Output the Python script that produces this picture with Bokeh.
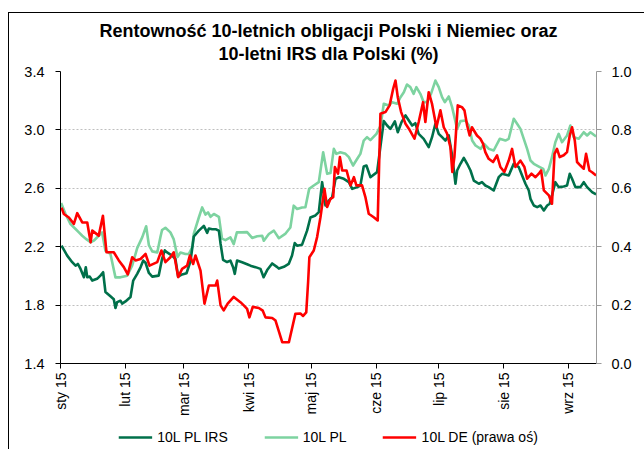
import math
from bokeh.plotting import figure
from bokeh.layouts import column
from bokeh.models import (Range1d, LinearAxis, FixedTicker, Legend, LegendItem,
                          Title, NumeralTickFormatter, ColumnDataSource)
from bokeh.embed import file_html
from bokeh.resources import INLINE

month_days = [0, 31, 59, 90, 120, 151, 181, 212, 243]
month_labels = ["sty 15", "lut 15", "mar 15", "kwi 15", "maj 15",
                "cze 15", "lip 15", "sie 15", "wrz 15"]
left_ticks = [1.4, 1.8, 2.2, 2.6, 3.0, 3.4]
right_ticks = [0.0, 0.2, 0.4, 0.6, 0.8, 1.0]

irs_pts = [(0.5,2.207),(3.2,2.139),(5.6,2.094),(7.2,2.070),(8.3,2.082),(9.6,2.048),(11.2,1.991),
 (12.1,2.059),(12.8,1.991),(14.0,1.995),(15.2,1.968),(17.5,1.980),(19.1,2.002),(20.4,2.025),
 (21.5,1.890),(23.9,1.860),(25.5,1.840),(26.3,1.780),(27.1,1.820),(28.7,1.830),(29.5,1.810),
 (31.1,1.825),(33.5,1.855),(34.8,1.968),(36.7,2.014),(38.3,2.059),(39.6,2.105),(40.7,2.090),
 (42.3,2.020),(43.9,1.995),(47.0,2.002),(48.6,2.116),(49.9,2.175),(51.0,2.161),(53.4,2.139),
 (55.0,2.116),(56.3,1.995),(58.2,2.010),(60.3,2.018),(62.2,2.100),(63.8,2.270),(66.2,2.310),
 (68.6,2.343),(70.2,2.295),(71.0,2.325),(72.6,2.320),(74.2,2.320),(75.8,2.309),(76.6,2.220),
 (77.8,2.110),(79.7,2.095),(81.3,2.105),(82.6,2.060),(83.4,2.014),(84.5,2.105),(86.9,2.093),
 (89.3,2.080),(90.9,2.070),(93.3,2.060),(95.7,2.048),(97.2,1.991),(98.9,2.040),(101.3,2.085),
 (103.7,2.060),(104.5,2.050),(106.9,2.062),(109.2,2.082),(110.8,2.140),(112.1,2.225),(113.2,2.207),
 (115.6,2.214),(118.0,2.310),(119.6,2.400),(122.0,2.414),(123.6,2.437),(125.2,2.642),(126.8,2.482),
 (128.4,2.516),(130.0,2.539),(131.6,2.665),(133.2,2.676),(135.6,2.665),(138.0,2.642),(139.6,2.596),
 (142.0,2.608),(143.5,2.619),(145.1,2.749),(146.4,2.756),(148.3,2.676),(151.5,2.711),(154.7,3.060),
 (156.3,3.030),(157.9,3.007),(160.0,3.058),(161.4,2.984),(163.2,3.053),(165.1,3.099),(166.7,3.064),
 (168.3,3.030),(169.8,3.046),(171.4,2.973),(173.8,2.939),(176.2,2.882),(177.8,2.950),(179.4,3.042),
 (181.0,2.973),(182.6,2.950),(184.2,2.927),(185.8,2.962),(187.4,2.825),(189.0,2.631),(189.8,2.722),
 (191.4,2.768),(193.0,2.809),(194.6,2.768),(196.2,2.722),(197.8,2.653),(200.2,2.631),(201.7,2.642),
 (203.3,2.619),(204.9,2.608),(207.3,2.585),(209.7,2.676),(211.3,2.699),(214.5,2.688),(216.9,2.768),
 (219.3,2.745),(220.9,2.688),(222.5,2.631),(224.1,2.585),(224.9,2.528),(226.5,2.482),(228.1,2.471),
 (229.7,2.482),(231.3,2.448),(232.9,2.482),(234.1,2.494),(235.2,2.551),(236.8,2.642),(238.4,2.608),
 (240.8,2.612),(242.4,2.619),(243.7,2.699),(244.8,2.665),(246.4,2.608),(248.8,2.608),(250.4,2.642),
 (252.0,2.608),(254.4,2.574),(256.3,2.558)]

pl_pts = [(0.3,2.499),(2.4,2.424),(4.8,2.355),(7.2,2.321),(8.8,2.298),(10.4,2.275),(12.5,2.250),
 (14.4,2.230),(15.9,2.241),(18.3,2.275),(19.9,2.298),(21.5,2.173),(23.9,2.150),(26.3,1.990),
 (28.7,1.990),(31.9,2.001),(34.3,2.070),(36.7,2.190),(39.1,2.264),(41.0,2.340),(42.3,2.210),
 (43.9,2.168),(46.3,2.161),(47.8,2.264),(48.6,2.314),(50.2,2.330),(52.6,2.298),(54.2,2.250),
 (56.0,2.130),(57.4,2.160),(59.8,2.150),(61.4,2.150),(63.0,2.195),(63.8,2.290),(66.2,2.400),
 (67.8,2.469),(69.4,2.420),(70.6,2.435),(71.8,2.405),(73.4,2.424),(75.8,2.405),(77.3,2.255),
 (78.9,2.245),(81.3,2.264),(82.9,2.218),(84.4,2.298),(86.8,2.298),(89.3,2.300),(91.7,2.260),
 (94.1,2.272),(96.5,2.275),(97.3,2.241),(99.7,2.287),(102.1,2.310),(104.5,2.258),(107.7,2.290),
 (110.0,2.332),(111.6,2.481),(113.2,2.458),(115.6,2.469),(117.2,2.470),(119.0,2.596),(121.2,2.619),
 (123.6,2.642),(125.7,2.847),(127.6,2.699),(129.2,2.705),(130.8,2.870),(132.0,2.836),(133.9,2.847),
 (136.4,2.836),(138.0,2.813),(140.0,2.756),(142.0,2.802),(143.5,2.836),(145.1,2.927),(146.7,2.950),
 (148.3,2.930),(151.2,2.973),(153.2,3.030),(154.7,3.179),(157.1,3.167),(158.7,3.190),(161.1,3.179),
 (162.7,3.224),(164.3,3.258),(165.8,3.311),(167.4,3.293),(169.0,3.247),(170.3,3.293),(172.2,3.247),
 (173.8,3.190),(175.4,3.190),(177.3,3.247),(179.4,3.338),(181.0,3.293),(182.6,3.224),(183.9,3.190),
 (185.8,3.229),(187.4,3.156),(189.8,3.007),(191.4,3.060),(193.8,3.064),(195.4,3.030),(197.0,2.927),
 (198.6,2.893),(201.1,2.870),(202.6,2.905),(205.0,2.870),(207.3,2.859),(210.2,2.939),(212.9,2.927),
 (214.5,2.939),(216.9,3.076),(218.5,3.042),(220.1,3.007),(221.7,2.939),(223.3,2.870),(224.9,2.790),
 (226.5,2.768),(228.9,2.749),(231.0,2.733),(232.1,2.688),(233.7,2.733),(235.2,2.813),(236.8,2.916),
 (238.4,2.973),(240.0,2.916),(242.4,2.962),(244.0,3.030),(245.6,2.950),(248.0,2.939),(250.4,2.984),
 (252.0,2.962),(253.6,2.984),(256.3,2.955)]

de_pts = [(0.5,0.534),(1.6,0.512),(4.0,0.500),(6.4,0.478),(8.0,0.515),(10.4,0.483),(12.8,0.483),
 (14.4,0.415),(15.2,0.455),(18.3,0.438),(20.3,0.506),(22.0,0.381),(25.5,0.381),(27.9,0.353),
 (30.3,0.330),(32.2,0.305),(34.3,0.364),(35.9,0.353),(38.3,0.358),(40.7,0.375),(42.6,0.335),
 (46.3,0.347),(48.3,0.387),(50.2,0.347),(52.6,0.364),(54.2,0.381),(56.3,0.296),(58.2,0.324),
 (60.6,0.335),(61.9,0.370),(63.5,0.341),(64.6,0.370),(67.0,0.318),(68.9,0.205),(71.0,0.267),
 (74.2,0.267),(75.0,0.284),(76.6,0.199),(78.1,0.182),(80.0,0.205),(82.9,0.228),(86.1,0.210),
 (87.7,0.199),(89.3,0.187),(90.4,0.158),(92.0,0.194),(94.9,0.190),(96.8,0.181),(98.1,0.158),
 (101.3,0.156),(102.9,0.147),(104.5,0.110),(106.1,0.073),(109.3,0.073),(110.8,0.120),(112.4,0.170),
 (114.8,0.171),(116.1,0.163),(117.6,0.175),(118.5,0.280),(119.1,0.364),(121.2,0.387),(122.8,0.433),
 (124.4,0.501),(126.3,0.598),(127.6,0.536),(129.2,0.564),(130.5,0.570),(131.3,0.673),(132.8,0.650),
 (133.7,0.707),(134.8,0.661),(136.9,0.661),(138.8,0.610),(140.4,0.638),(141.6,0.610),(144.3,0.610),
 (145.9,0.570),(147.5,0.513),(149.9,0.501),(151.8,0.490),(153.1,0.855),(155.5,0.861),(157.5,0.884),
 (159.2,0.941),(160.3,0.969),(161.4,0.912),(163.0,0.861),(165.1,0.821),(166.7,0.804),(169.4,0.770),
 (171.4,0.827),(173.5,0.895),(174.6,0.827),(176.2,0.929),(177.8,0.889),(179.9,0.809),(181.8,0.867),
 (183.4,0.809),(185.0,0.787),(186.6,0.741),(187.5,0.656),(188.5,0.707),(190.1,0.884),(192.1,0.878),
 (193.3,0.867),(194.6,0.815),(195.8,0.781),(196.9,0.809),(199.3,0.781),(200.9,0.770),(202.2,0.753),
 (203.3,0.724),(204.9,0.701),(207.0,0.690),(208.9,0.713),(210.5,0.673),(212.4,0.656),(214.5,0.695),
 (216.1,0.735),(217.7,0.673),(220.1,0.695),(222.0,0.673),(223.3,0.633),(225.4,0.650),(227.3,0.638),
 (228.9,0.650),(230.0,0.661),(231.3,0.593),(233.7,0.576),(235.2,0.547),(236.4,0.718),(237.6,0.735),
 (238.9,0.707),(240.8,0.713),(242.4,0.724),(243.7,0.781),(244.8,0.809),(246.1,0.764),(247.2,0.690),
 (248.8,0.678),(250.4,0.667),(251.5,0.718),(253.1,0.661),(254.4,0.655),(256.3,0.644)]

series_names = ["10L PL IRS", "10L PL", "10L DE (prawa oś)"]

FONT = "Liberation Sans"
C_IRS = "#00704A"
C_PL = "#7DD3A0"
C_DE = "#FF0000"
LW = 2.6

p = figure(width=635, height=412, output_backend="svg", toolbar_location=None,
           x_range=Range1d(0, 256.5), y_range=Range1d(1.4, 3.4),
           min_border_left=51, min_border_right=48, min_border_top=58, min_border_bottom=62)
p.outline_line_color = None
p.extra_y_ranges = {"de": Range1d(0, 1)}

src_irs = ColumnDataSource(dict(x=[a for a, b in irs_pts], y=[b for a, b in irs_pts]))
src_pl = ColumnDataSource(dict(x=[a for a, b in pl_pts], y=[b for a, b in pl_pts]))
src_de = ColumnDataSource(dict(x=[a for a, b in de_pts], y=[b for a, b in de_pts]))

p.line("x", "y", source=src_pl, line_color=C_PL, line_width=LW, line_join="round")
p.line("x", "y", source=src_irs, line_color=C_IRS, line_width=LW, line_join="round")
p.line("x", "y", source=src_de, line_color=C_DE, line_width=LW, line_join="round",
       y_range_name="de")

xa = p.xaxis[0]
xa.ticker = FixedTicker(ticks=month_days)
xa.major_label_overrides = {d: l for d, l in zip(month_days, month_labels)}
xa.major_label_orientation = math.pi / 2
xa.minor_tick_line_color = None
xa.major_tick_in = 0
xa.major_tick_out = 5
xa.axis_line_color = "#000000"
xa.major_tick_line_color = "#000000"
xa.major_label_standoff = 4
xa.major_label_text_font = FONT
xa.major_label_text_font_size = "14px"
xa.major_label_text_color = "#000000"

ya = p.yaxis[0]
ya.ticker = FixedTicker(ticks=left_ticks)
ya.formatter = NumeralTickFormatter(format="0.0")
ya.minor_tick_line_color = None
ya.major_tick_in = 0
ya.major_tick_out = 5
ya.major_label_standoff = 11
ya.axis_line_color = "#000000"
ya.major_tick_line_color = "#000000"
ya.major_label_text_font = FONT
ya.major_label_text_font_size = "14.5px"
ya.major_label_text_color = "#000000"

ra = LinearAxis(y_range_name="de", ticker=FixedTicker(ticks=right_ticks),
                formatter=NumeralTickFormatter(format="0.0"))
ra.minor_tick_line_color = None
ra.major_tick_in = 0
ra.major_tick_out = 5
ra.major_label_standoff = 10
ra.axis_line_color = "#999999"
ra.major_tick_line_color = "#999999"
ra.major_label_text_font = FONT
ra.major_label_text_font_size = "14.5px"
ra.major_label_text_color = "#000000"
p.add_layout(ra, "right")

p.xgrid.visible = False
p.ygrid.ticker = FixedTicker(ticks=left_ticks)
p.ygrid.grid_line_color = "#BFBFBF"
p.ygrid.grid_line_dash = "2 2"
p.ygrid.grid_line_width = 1

t2 = Title(text="10-letni IRS dla Polski (%)", align="center", text_font=FONT,
           text_font_size="18px", text_font_style="bold", text_color="#000000", standoff=15)
t1 = Title(text="Rentowność 10-letnich obligacji Polski i Niemiec oraz", align="center",
           text_font=FONT, text_font_size="18px", text_font_style="bold",
           text_color="#000000", standoff=-12)
p.add_layout(t2, "above")
p.add_layout(t1, "above")

# legend strip below the chart: same series, drawn in a strip whose ranges hide them,
# so that only the legend keys show
lf = figure(width=635, height=24, output_backend="svg", toolbar_location=None,
            x_range=Range1d(-2, -1), y_range=Range1d(-2, -1),
            x_axis_location=None, y_axis_location=None,
            min_border_left=0, min_border_right=0, min_border_top=0, min_border_bottom=0)
lf.outline_line_color = None
lf.xgrid.visible = False
lf.ygrid.visible = False
k_irs = lf.line("x", "y", source=src_irs, line_color=C_IRS, line_width=LW)
k_pl = lf.line("x", "y", source=src_pl, line_color=C_PL, line_width=LW)
k_de = lf.line("x", "y", source=src_de, line_color=C_DE, line_width=LW)
legend = Legend(items=[LegendItem(label=series_names[0], renderers=[k_irs]),
                       LegendItem(label=series_names[1], renderers=[k_pl]),
                       LegendItem(label=series_names[2], renderers=[k_de])],
                orientation="horizontal", location="center",
                label_text_font=FONT, label_text_font_size="14px", label_text_color="#000000",
                glyph_width=34, label_standoff=5, spacing=36,
                padding=0, margin=0, border_line_color=None, background_fill_alpha=0)
lf.add_layout(legend, "center")

page = column(p, lf, spacing=0)
page.styles = {"margin-left": "8px", "margin-top": "12px",
               "border-top": "1px solid #000000", "border-left": "1px solid #000000"}

open("out.html", "w").write(file_html(page, INLINE))
